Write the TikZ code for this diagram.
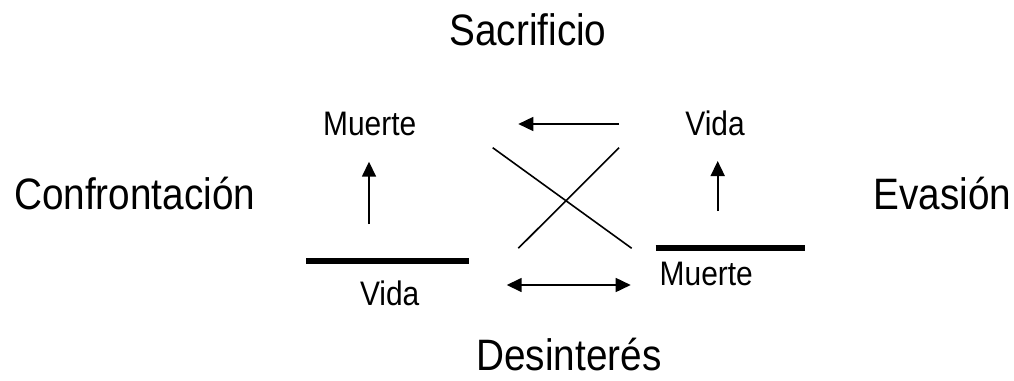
\documentclass[tikz,border=0pt]{standalone}
\usepackage{fontspec}
\setmainfont{Liberation Sans}[FakeStretch=0.88]
\usetikzlibrary{arrows.meta,positioning}
\tikzset{
  pole/.style={font=\fontsize{44}{48}\selectfont, anchor=base, inner sep=0pt},
  state/.style={font=\fontsize{34}{38}\selectfont, anchor=base, inner sep=0pt},
  bar/.style={line width=6pt},
  arrow/.style={-{Triangle[length=15pt,width=14pt]}, line width=1.6pt},
  twoarrow/.style={{Triangle[length=15pt,width=14pt]}-{Triangle[length=15pt,width=14pt]}, line width=1.6pt},
  cross/.style={line width=1.6pt}
}
\begin{document}
\begin{tikzpicture}[x=1pt,y=-1pt]
  \useasboundingbox (0,0) rectangle (1014,380);
  \node[pole] (sac) at (528,45) {Sacrificio};
  \node[pole] (conf) at (134.7,209) {Confrontación};
  \node[pole] (eva) at (942.5,209) {Evasión};
  \node[pole] (des) at (569,370) {Desinterés};
  \node[state] (muerteA) at (369.7,135) {Muerte};
  \node[state] (vidaA) at (715,135) {Vida};
  \node[state] (vidaB) at (389.7,305) {Vida};
  \node[state] (muerteB) at (706.3,285) {Muerte};
  \coordinate (lbarW) at (306,260.7); \coordinate (lbarE) at (469,260.7);
  \coordinate (rbarW) at (655.7,247.7); \coordinate (rbarE) at (805,247.7);
  \draw[bar] (lbarW) -- (lbarE);
  \draw[bar] (rbarW) -- (rbarE);
  \coordinate (lup0) at (369,224); \coordinate (lup1) at (369,161.7);
  \coordinate (rup0) at (717.7,211); \coordinate (rup1) at (717.7,161);
  \draw[arrow] (lup0) -- (lup1);
  \draw[arrow] (rup0) -- (rup1);
  \coordinate (top0) at (619,124); \coordinate (top1) at (518.3,124);
  \draw[arrow] (top0) -- (top1);
  \coordinate (bot0) at (506.7,285); \coordinate (bot1) at (630.7,285);
  \draw[twoarrow] (bot0) -- (bot1);
  \coordinate (xA) at (492.7,147.7); \coordinate (xB) at (631.7,248.3);
  \coordinate (xC) at (518.3,248.3); \coordinate (xD) at (619,147.7);
  \draw[cross] (xA) -- (xB);
  \draw[cross] (xC) -- (xD);
\end{tikzpicture}
\end{document}
